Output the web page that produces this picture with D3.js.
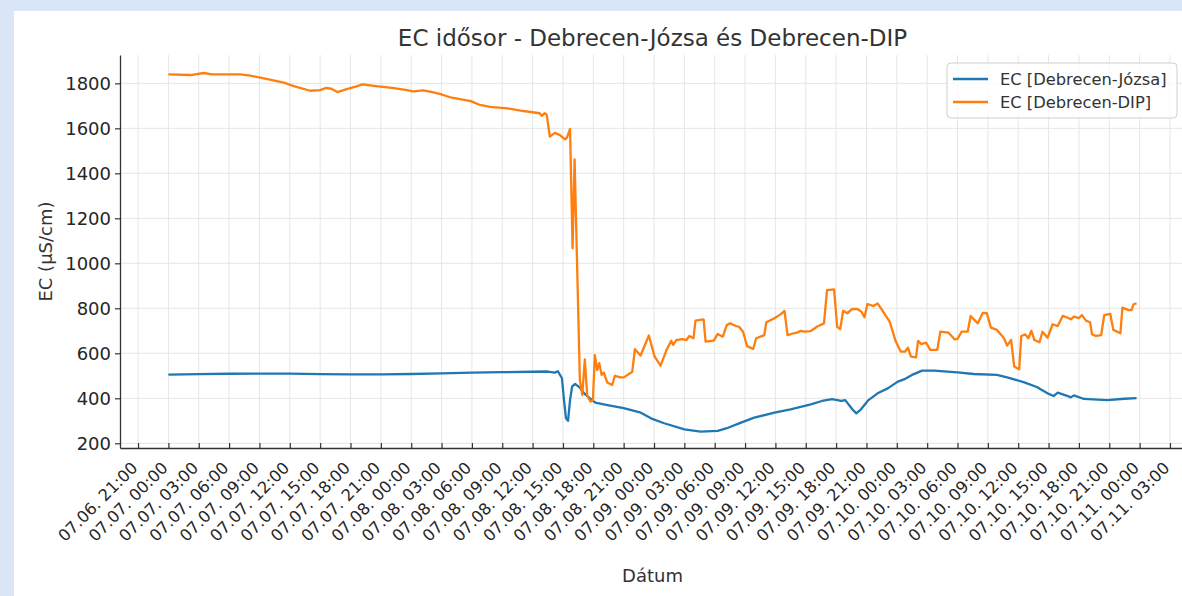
<!DOCTYPE html>
<html>
<head>
<meta charset="utf-8">
<script src="https://cdn.jsdelivr.net/npm/d3@7"></script>
<style>
  body { margin: 0; background: #dae6f7; }
  svg { display: block; font-family: "DejaVu Sans", sans-serif; }
</style>
</head>
<body>
<svg></svg>
<script>
// hours after 07.07. 00:00, values in µS/cm
const startTime = new Date(2024, 6, 7, 0, 0);

const jozsaHours = [0, 3, 6, 9, 12, 15, 18, 21, 24, 27, 30, 33, 36, 37.5, 38.2, 38.5, 38.9, 39.1, 39.3, 39.5, 39.7, 39.9, 40.2, 40.7, 41.1, 41.7, 42.2, 43.4, 45, 46.7, 47.7, 49, 51, 52.6, 54.3, 55.2, 56.6, 57.9, 59.9, 61.5, 63.5, 64.6, 65.6, 66.5, 66.9, 67.6, 68, 68.4, 69.2, 70.1, 71.1, 72.1, 72.7, 73.5, 74.5, 75.7, 78, 79.6, 81.9, 82.9, 84.6, 85.9, 86.2, 86.9, 87.5, 87.9, 88.9, 89.2, 89.5, 90.5, 92.8, 94.5, 95.7];
const jozsaValues = [505, 507, 509, 510, 510, 507, 506, 506, 508, 511, 514, 516, 518, 519, 514, 520, 489, 392, 311, 300, 392, 452, 464, 446, 422, 398, 381, 370, 356, 336, 311, 289, 262, 252, 255, 267, 292, 314, 336, 351, 373, 388, 396, 388, 392, 351, 333, 348, 392, 422, 444, 474, 484, 504, 523, 523, 515, 508, 504, 493, 471, 449, 440, 422, 410, 425, 410, 404, 413, 397, 392, 398, 401];

const dipHours = [0, 2.2, 3.5, 4.3, 7.1, 8.1, 9.8, 11.4, 12.4, 14.0, 15.0, 15.6, 16.1, 16.7, 17.7, 18.5, 19.2, 20.3, 22.3, 23.6, 24.2, 25.2, 26.2, 26.9, 28.0, 29.9, 30.8, 31.8, 33.5, 35.1, 36.7, 36.9, 37.2, 37.4, 37.7, 38.2, 38.7, 39.2, 39.4, 39.7, 39.95, 40.15, 40.67, 40.91, 41.16, 41.4, 41.73, 41.96, 42.15, 42.39, 42.59, 42.82, 43.04, 43.38, 43.87, 44.13, 44.69, 45.02, 45.85, 46.11, 46.67, 47.49, 48.06, 48.65, 49.24, 49.7, 49.9, 50.2, 50.8, 51.2, 51.5, 51.9, 52.1, 52.9, 53.1, 53.9, 54.3, 54.8, 55.2, 55.5, 56.1, 56.4, 56.8, 57.2, 57.8, 58.1, 58.9, 59.1, 59.9, 60.5, 60.9, 61.2, 61.8, 62.2, 62.5, 62.9, 63.5, 64.1, 64.8, 65.1, 65.8, 66.1, 66.4, 66.7, 67.1, 67.6, 68.1, 68.5, 68.8, 69.1, 69.7, 70.1, 70.6, 71.3, 71.9, 72.4, 72.8, 73.1, 73.4, 73.9, 74.1, 74.4, 74.9, 75.3, 76.0, 76.3, 77.1, 77.7, 78.0, 78.4, 79.0, 79.3, 80.0, 80.5, 80.9, 81.3, 81.9, 82.6, 82.9, 83.3, 83.6, 84.1, 84.3, 84.7, 85.0, 85.3, 85.6, 86.1, 86.4, 86.9, 87.4, 87.9, 88.4, 88.9, 89.2, 89.5, 90.0, 90.3, 90.7, 91.1, 91.3, 91.7, 92.2, 92.5, 93.1, 93.4, 94.1, 94.3, 94.9, 95.2, 95.4, 95.7];
const dipValues = [1840, 1837, 1846, 1840, 1840, 1834, 1819, 1803, 1788, 1767, 1770, 1780, 1776, 1761, 1775, 1785, 1795, 1789, 1779, 1770, 1764, 1769, 1760, 1752, 1736, 1721, 1704, 1695, 1689, 1677, 1667, 1656, 1667, 1660, 1563, 1580, 1570, 1551, 1560, 1597, 1067, 1462, 481, 415, 573, 410, 385, 392, 592, 526, 556, 504, 514, 470, 459, 500, 493, 493, 518, 618, 590, 679, 585, 545, 615, 656, 637, 659, 663, 659, 677, 667, 745, 751, 652, 656, 686, 674, 726, 733, 721, 718, 696, 632, 619, 667, 681, 738, 756, 773, 788, 681, 689, 693, 700, 696, 699, 718, 733, 881, 884, 718, 707, 789, 778, 797, 797, 785, 760, 819, 810, 822, 789, 740, 652, 607, 607, 625, 585, 582, 655, 641, 647, 615, 615, 696, 692, 662, 664, 696, 696, 766, 733, 780, 778, 714, 704, 667, 634, 659, 541, 529, 677, 684, 667, 700, 659, 649, 696, 669, 729, 721, 766, 758, 751, 763, 756, 770, 745, 738, 684, 677, 681, 770, 775, 704, 689, 803, 792, 792, 818, 822];

const seriesNames = ["EC [Debrecen-Józsa]", "EC [Debrecen-DIP]"];
const seriesColors = ["#1f77b4", "#ff7f0e"];
const yTicks = [200, 400, 600, 800, 1000, 1200, 1400, 1600, 1800];

const toDate = h => new Date(startTime.getTime() + h * 3600e3);
const jozsa = jozsaHours.map((h, i) => ({t: toDate(h), v: jozsaValues[i]}));
const dip = dipHours.map((h, i) => ({t: toDate(h), v: dipValues[i]}));

const width = 1182, height = 596;
const svg = d3.select("svg").attr("width", width).attr("height", height);

svg.append("rect").attr("width", width).attr("height", height).attr("fill", "#dae6f7");
svg.append("rect").attr("x", 14).attr("y", 11).attr("width", width).attr("height", height).attr("fill", "#fff");

const plot = {left: 120, right: 1185, top: 55, bottom: 448};

// matplotlib style 5% margin on the time axis
const tMin = d3.min(dipHours.concat(jozsaHours)), tMax = d3.max(dipHours.concat(jozsaHours));
const pad = (tMax - tMin) * 0.05;
const x = d3.scaleTime().domain([toDate(tMin - pad), toDate(tMax + pad)]).range([plot.left, plot.right]);
const y = d3.scaleLinear().domain([179, 1926]).range([plot.bottom, plot.top]);

const xTicks = x.ticks(d3.timeHour.every(3));
const fmt = d3.timeFormat("%m.%d. %H:%M");

// grid
const grid = svg.append("g").attr("stroke", "#e6e6e6").attr("stroke-width", 1);
grid.selectAll(".vx").data(xTicks).join("line")
  .attr("x1", d => x(d)).attr("x2", d => x(d)).attr("y1", plot.top).attr("y2", plot.bottom);
grid.selectAll(".hy").data(yTicks).join("line")
  .attr("x1", plot.left).attr("x2", plot.right).attr("y1", d => y(d)).attr("y2", d => y(d));

// lines
const line = d3.line().x(d => x(d.t)).y(d => y(d.v));
[jozsa, dip].forEach((s, i) => {
  svg.append("path").datum(s).attr("d", line).attr("fill", "none")
    .attr("stroke", seriesColors[i]).attr("stroke-width", 2.3).attr("stroke-linejoin", "round");
});

// axes
const xAxis = d3.axisBottom(x).tickValues(xTicks).tickFormat(fmt).tickSizeInner(-5).tickSizeOuter(0);
const gx = svg.append("g").attr("transform", `translate(0,${plot.bottom})`).call(xAxis).attr("font-family", null);
gx.select(".domain").attr("stroke", "#333").attr("stroke-width", 1.3);
gx.selectAll(".tick line").attr("stroke", "#333").attr("stroke-width", 1.2);
gx.selectAll(".tick text")
  .attr("fill", "#262626").style("font-size", "16.3px")
  .attr("text-anchor", "end").attr("dy", null).attr("y", null)
  .attr("transform", "translate(0,21) rotate(-45)");

const yAxis = d3.axisLeft(y).tickValues(yTicks).tickFormat(d3.format("d")).tickSizeInner(5).tickSizeOuter(0).tickPadding(4);
const gy = svg.append("g").attr("transform", `translate(${plot.left},0)`).call(yAxis).attr("font-family", null);
gy.select(".domain").attr("stroke", "#333").attr("stroke-width", 1.3);
gy.selectAll(".tick line").attr("stroke", "#333").attr("stroke-width", 1.2);
gy.selectAll(".tick text").attr("fill", "#262626").style("font-size", "18px");

// labels
svg.append("text").attr("x", (plot.left + plot.right) / 2).attr("y", 46)
  .attr("text-anchor", "middle").attr("fill", "#333").style("font-size", "23px")
  .text("EC idősor - Debrecen-Józsa és Debrecen-DIP");
svg.append("text").attr("x", (plot.left + plot.right) / 2).attr("y", 582)
  .attr("text-anchor", "middle").attr("fill", "#333").style("font-size", "18px").text("Dátum");
svg.append("text").attr("transform", `translate(52,${(plot.top + plot.bottom) / 2}) rotate(-90)`)
  .attr("text-anchor", "middle").attr("fill", "#333").style("font-size", "18px").text("EC (µS/cm)");

// legend
const lg = svg.append("g").attr("transform", "translate(947,63)");
lg.append("rect").attr("width", 230).attr("height", 55).attr("rx", 4)
  .attr("fill", "#fff").attr("fill-opacity", 0.8).attr("stroke", "#d0d0d0");
seriesNames.forEach((name, i) => {
  const g = lg.append("g").attr("transform", `translate(0,${16 + i * 23})`);
  g.append("line").attr("x1", 6).attr("x2", 41).attr("stroke", seriesColors[i]).attr("stroke-width", 2.5);
  g.append("text").attr("x", 53).attr("dy", "0.35em").attr("fill", "#333").style("font-size", "16.3px").text(name);
});
</script>
</body>
</html>
